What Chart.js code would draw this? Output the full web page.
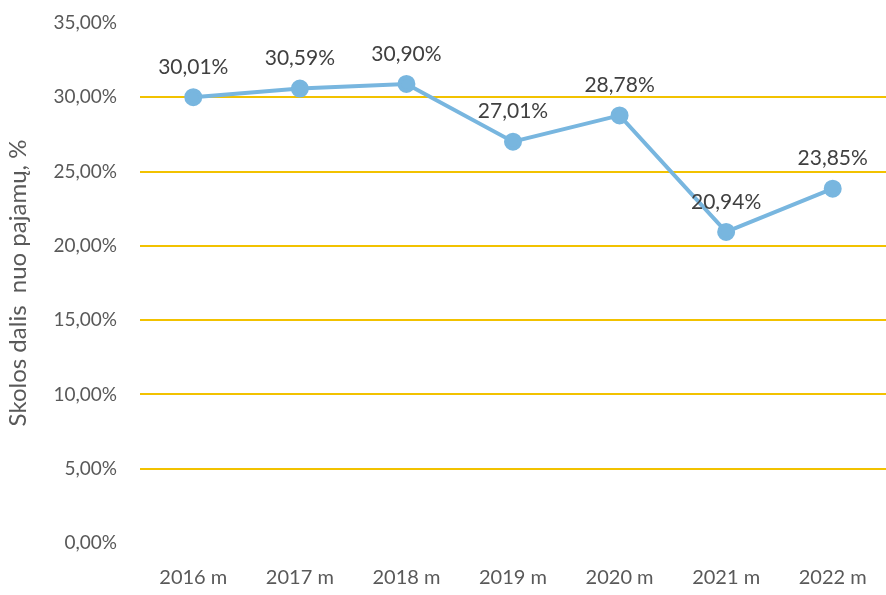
<!DOCTYPE html>
<html>
<head>
<meta charset="utf-8">
<script src="https://cdn.jsdelivr.net/npm/chart.js@4"></script>
<style>
  html, body { margin: 0; padding: 0; background: #fff; overflow: hidden; }
  .graphic { width: 886px; height: 595px; position: relative; }
</style>
</head>
<body>
<div class="graphic">
  <canvas id="graphic"></canvas>
</div>
<script>
const years = ["2016 m", "2017 m", "2018 m", "2019 m", "2020 m", "2021 m", "2022 m"];
const debtShare = [30.01, 30.59, 30.90, 27.01, 28.78, 20.94, 23.85];
const yTicks = [0, 5, 10, 15, 20, 25, 30, 35];

const pct = v => v.toFixed(2).replace('.', ',') + '%';
const fontFamily = 'Lato, "Open Sans", sans-serif';

// data labels over each point
const pointLabels = {
  id: 'pointLabels',
  afterDatasetsDraw(chart) {
    const ctx = chart.ctx;
    const meta = chart.getDatasetMeta(0);
    ctx.save();
    ctx.font = '21px ' + fontFamily;
    ctx.fillStyle = '#404040';
    ctx.textAlign = 'center';
    ctx.textBaseline = 'middle';
    meta.data.forEach((pt, i) => {
      ctx.fillText(pct(debtShare[i]), pt.x, pt.y - 30);
    });
    ctx.restore();
  }
};

const ctx = document.getElementById("graphic").getContext("2d");
new Chart(ctx, {
  type: "line",
  data: {
    labels: years,
    datasets: [{
      label: "Skolos dalis nuo pajamų",
      data: debtShare,
      borderColor: "#78b6df",
      backgroundColor: "#78b6df",
      borderWidth: 4,
      pointRadius: 7,
      pointHoverRadius: 7,
      tension: 0
    }]
  },
  options: {
    responsive: true,
    maintainAspectRatio: false,
    animation: false,
    layout: { autoPadding: false, padding: { top: 23, right: 0, bottom: 0, left: 4 } },
    plugins: {
      legend: { display: false },
      tooltip: { enabled: false }
    },
    scales: {
      x: {
        offset: true,
        grid: { display: false },
        border: { display: false },
        ticks: {
          color: '#595959',
          font: { family: fontFamily, size: 20 },
          padding: 15
        },
        afterFit: s => {
          s.height = 52;
          s.paddingLeft = 0;
          s.paddingRight = 0;
        }
      },
      y: {
        min: 0,
        max: 35,
        afterBuildTicks: axis => { axis.ticks = yTicks.map(v => ({ value: v })); },
        border: { display: false },
        grid: {
          color: c => (c.tick && (c.tick.value === 0 || c.tick.value === 35)) ? 'rgba(0,0,0,0)' : '#f2c200',
          lineWidth: 2,
          drawTicks: false
        },
        ticks: {
          color: '#595959',
          font: { family: fontFamily, size: 19 },
          padding: 23,
          callback: v => pct(v)
        },
        title: {
          display: true,
          text: "Skolos dalis  nuo pajamų, %",
          color: '#595959',
          font: { family: fontFamily, size: 24 },
          padding: { top: 0, bottom: 0 }
        },
        afterFit: s => {
          s.width = 136;
          s.paddingTop = 0;
          s.paddingBottom = 0;
        }
      }
    }
  },
  plugins: [pointLabels]
});
</script>
</body>
</html>
